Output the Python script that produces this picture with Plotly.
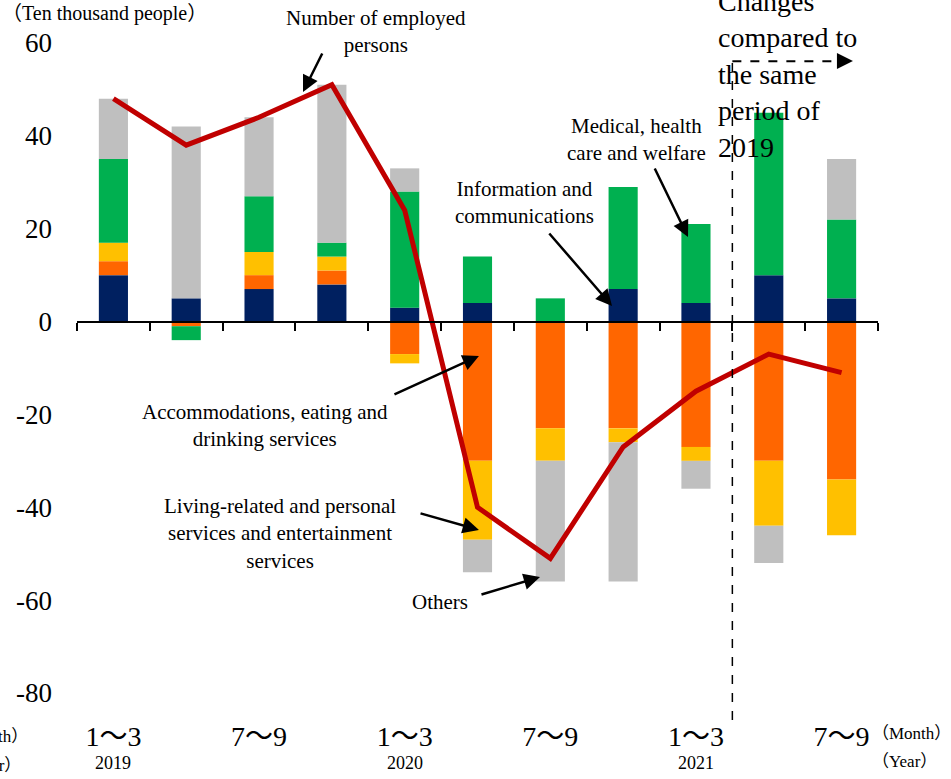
import plotly.graph_objects as go

quarters = ["2019 1~3", "2019 4~6", "2019 7~9", "2019 10~12",
            "2020 1~3", "2020 4~6", "2020 7~9", "2020 10~12",
            "2021 1~3", "2021 4~6", "2021 7~9"]
info_comm = [10, 5, 7, 8, 3, 4, 0, 7, 4, 10, 5]
accommodations = [3, -1, 3, 3, -7, -30, -23, -23, -27, -30, -34]
living_related = [4, 0, 5, 3, -2, -17, -7, -3, -3, -14, -12]
medical = [18, -3, 12, 3, 25, 10, 5, 22, 17, 35, 17]
others = [13, 37, 17, 34, 5, -7, -26, -30, -6, -8, 13]
employed = [48, 38, 44, 51, 24, -40, -51, -27, -15, -7, -11]

month_ticks = ["1～3", "7～9", "1～3", "7～9", "1～3", "7～9"]
year_labels = ["2019", "2020", "2021"]
y_ticks = [-80, -60, -40, -20, 0, 20, 40, 60]

SERIF = "Liberation Serif, Noto Sans CJK JP"
xs = list(range(len(quarters)))

series = [
    ("Information and communications", info_comm, "#002060"),
    ("Accommodations, eating and drinking services", accommodations, "#FF6600"),
    ("Living-related and personal services and entertainment services", living_related, "#FFC000"),
    ("Medical, health care and welfare", medical, "#00B050"),
    ("Others", others, "#BFBFBF"),
]

fig = go.Figure()
for name, vals, col in series:
    fig.add_trace(go.Bar(x=xs, y=vals, name=name, marker=dict(color=col, line=dict(width=0)),
                         hovertext=quarters))
fig.add_trace(go.Scatter(x=xs, y=employed, name="Number of employed persons", mode="lines",
                         line=dict(color="#C00000", width=5), xaxis="x2", yaxis="y",
                         hovertext=quarters))

fig.update_layout(
    width=951, height=779,
    margin=dict(l=77, r=73, t=43, b=86),
    barmode="relative", bargap=0.6,
    showlegend=False,
    plot_bgcolor="white", paper_bgcolor="white",
    font=dict(family=SERIF, color="black"),
    xaxis=dict(range=[-0.5, 10.5], anchor="free", position=80 / 140,
               showline=True, linewidth=2, linecolor="black",
               ticks="outside", tickvals=[i - 0.5 for i in range(12)], ticklen=8, tickwidth=2,
               tickcolor="black", showticklabels=False, showgrid=False, zeroline=False),
    xaxis2=dict(range=[-0.5, 10.5], overlaying="x", anchor="y", side="bottom",
                tickvals=xs[::2], ticktext=month_ticks, showline=False, showgrid=False,
                zeroline=False, ticks="outside", ticklen=18, tickcolor="rgba(0,0,0,0)",
                tickfont=dict(size=28, family=SERIF)),
    yaxis=dict(range=[-80, 60], tickvals=y_ticks, ticktext=[str(v) for v in y_ticks],
               showgrid=False, zeroline=False, showline=False, ticks="",
               ticklabelstandoff=24, tickfont=dict(size=27, family=SERIF)),
)

def text_ann(text, x, y, size=21, xanchor="center", align="center", xref="paper", yref="paper"):
    fig.add_annotation(text=text, x=x, y=y, xref=xref, yref=yref, showarrow=False,
                       xanchor=xanchor, yanchor="middle", align=align,
                       font=dict(size=size, family=SERIF, color="black"))

text_ann("（Ten thousand people）", -0.0961, 1.046, size=20, xanchor="left")
text_ann("Number of employed<br>persons", 0.3733, 1.017)
text_ann("Changes<br>compared to<br>the same<br>period of<br>2019", 0.7978, 0.952, size=28,
         xanchor="left", align="left")
text_ann("Medical, health<br>care and welfare", 0.699, 0.851)
text_ann("Information and<br>communications", 0.5593, 0.754)
text_ann("Accommodations, eating and<br>drinking services", 0.2347, 0.412)
text_ann("Living-related and personal<br>services and entertainment<br>services", 0.2534, 0.246)
text_ann("Others", 0.4532, 0.14)
text_ann("（Month）", 0.990, -0.063, size=17, xanchor="left")
text_ann("（Year）", 0.990, -0.106, size=17, xanchor="left")
text_ann("（Month）", -0.0585, -0.067, size=17, xanchor="right")
text_ann("（Year）", -0.0674, -0.112, size=17, xanchor="right")
for i, yl in enumerate(year_labels):
    text_ann(yl, xs[i * 4], -0.108, size=18, xref="x", yref="paper")

def arrow(hx, hy, tx, ty, size=1.3):
    fig.add_annotation(x=hx, y=hy, ax=tx, ay=ty, xref="x", yref="y", axref="x", ayref="y",
                       text="", showarrow=True, arrowhead=2, arrowsize=size, arrowwidth=2.5,
                       arrowcolor="black")

arrow(2.604, 49.45, 2.878, 58.07)
arrow(7.891, 18.22, 7.424, 33.30)
arrow(6.847, 3.36, 5.968, 19.30)
arrow(5.020, -7.41, 3.839, -15.81)
arrow(5.020, -44.88, 4.197, -41.22)
arrow(5.858, -55.01, 5.034, -58.88)

# dashed boundary and arrow for "compared to 2019"
fig.add_shape(type="line", xref="x", yref="paper", x0=8.5, x1=8.5, y0=-0.0415, y1=0.972,
              line=dict(color="black", width=1.5, dash="dash"))
fig.add_shape(type="line", xref="x", yref="paper", x0=8.5, x1=10.0, y0=0.972, y1=0.972,
              line=dict(color="black", width=2, dash="dash"))
fig.add_annotation(x=10.156, y=56.13, ax=9.95, ay=56.13, xref="x", yref="y", axref="x", ayref="y",
                   text="", showarrow=True, arrowhead=2, arrowsize=1.6, arrowwidth=2,
                   arrowcolor="black")

fig.write_html("out.html", config={"displayModeBar": False},
               post_script="document.body.style.margin='0';")
